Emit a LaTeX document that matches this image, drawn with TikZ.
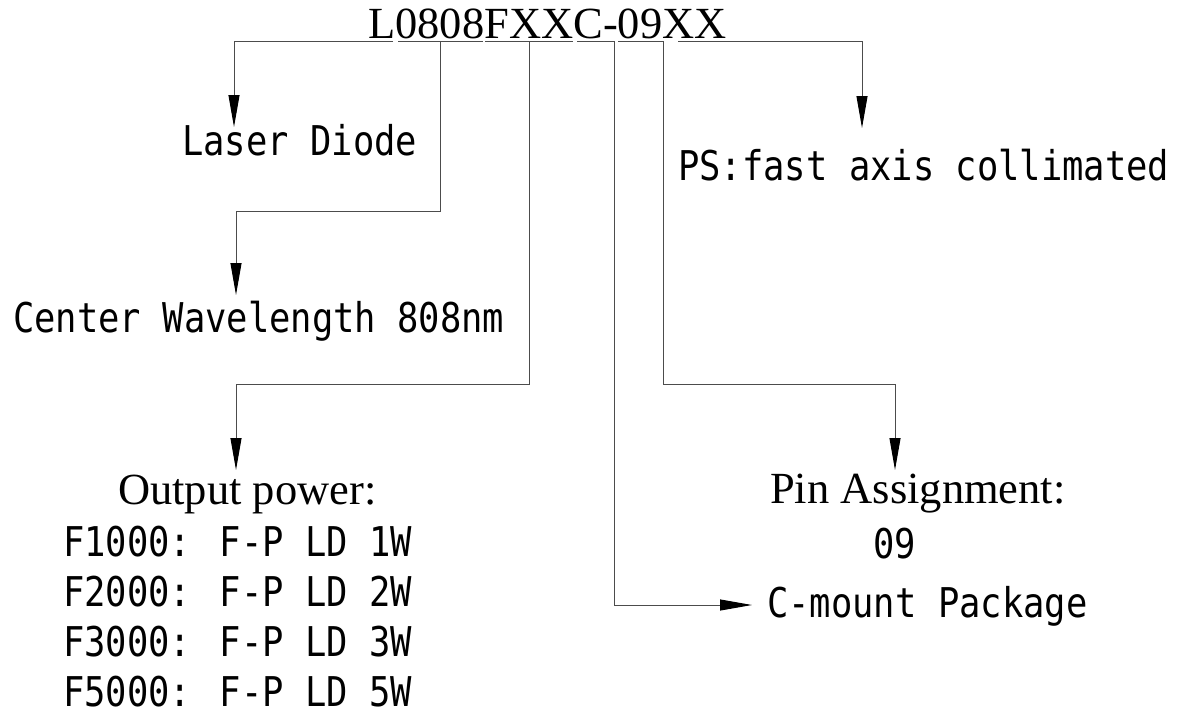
\documentclass[tikz,border=0pt]{standalone}
\usepackage{fontspec}
\setmainfont{Liberation Serif}
\newfontfamily\cadfont{DejaVu Sans Mono}[FakeStretch=0.865]
\usetikzlibrary{arrows.meta}
\tikzset{
  conn/.style={draw=black!70, line width=1pt},
  arr/.style={-{Triangle[length=32pt,width=11pt,color=black]}},
  serif/.style={font=\fontsize{44.5}{50}\selectfont, inner sep=0pt, anchor=base west},
  cad/.style={font=\cadfont\fontsize{41}{46}\selectfont, inner sep=0pt, anchor=base west},
}
\begin{document}
\begin{tikzpicture}[x=1pt,y=-1pt]
\useasboundingbox[fill=white] (0,0) rectangle (1185,717);
% title
\node[serif] (title) at (368,38) {L0808FXXC-09XX};
% labels
\node[cad] (laser) at (182,155) {Laser Diode};
\node[cad] (ps) at (678,180) {PS:fast axis collimated};
\node[cad] (center) at (13,332) {Center Wavelength 808nm};
\node[serif] (outp) at (118,504) {Output power:};
\node[cad] (f1) at (63,556) {F1000: F-P LD 1W};
\node[cad] (f2) at (63,606) {F2000: F-P LD 2W};
\node[cad] (f3) at (63,656) {F3000: F-P LD 3W};
\node[cad] (f5) at (63,706) {F5000: F-P LD 5W};
\node[serif] (pin) at (770,503) {Pin Assignment:};
\node[cad] (pinno) at (873,558) {09};
\node[cad] (cmount) at (767,617) {C-mount Package};
% connector points
\coordinate (uL) at (393,42);  \coordinate (tL) at (234,127);
\coordinate (u2a) at (398,42); \coordinate (u2b) at (483,42);
\coordinate (d2) at (440,42);  \coordinate (k2) at (236,211); \coordinate (t2) at (236,295);
\coordinate (u3a) at (485,42); \coordinate (u3b) at (573,42);
\coordinate (d3) at (529,42);  \coordinate (k3) at (236,384); \coordinate (t3) at (236,470);
\coordinate (u4) at (577,42);  \coordinate (k4) at (614,605); \coordinate (t4) at (752,605);
\coordinate (u5) at (618,42);  \coordinate (k5) at (663,384); \coordinate (t5) at (895,470);
\coordinate (u6) at (678,42);  \coordinate (t6) at (862,128);
% connectors
\draw[conn,arr] (uL) -| (tL);
\draw[conn] (u2a) -- (u2b);
\draw[conn,arr] (d2) |- (k2) -- (t2);
\draw[conn] (u3a) -- (u3b);
\draw[conn,arr] (d3) |- (k3) -- (t3);
\draw[conn,arr] (u4) -| (k4) -- (t4);
\draw[conn,arr] (u5) -| (k5) -| (t5);
\draw[conn,arr] (u6) -| (t6);
\end{tikzpicture}
\end{document}
